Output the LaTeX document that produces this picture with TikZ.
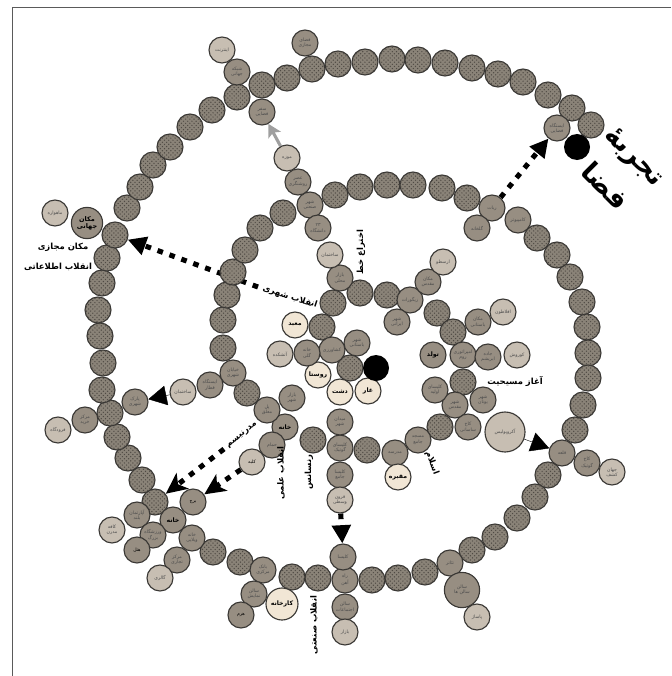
\documentclass[tikz,border=0pt]{standalone}
\usepackage{fontspec}
\usepackage{tikz}
\usetikzlibrary{arrows.meta, backgrounds, patterns}
\newfontfamily\farsi[Script=Arabic]{DejaVu Sans}
\TeXXeTstate=1
\newcommand{\fatxt}[1]{\beginR #1\endR}

\definecolor{beaddark}{HTML}{8A8378}
\definecolor{beadtex}{HTML}{4F4A44}
\definecolor{beadmid}{HTML}{978E82}
\definecolor{beadlight}{HTML}{C7BEB2}
\definecolor{beadcream}{HTML}{F1E6D5}
\definecolor{beadline}{HTML}{3A3835}
\definecolor{framegray}{HTML}{5A5A5A}

\tikzset{
  bead/.style={circle, draw=beadline, line width=0.8pt, fill=beaddark, minimum size=0.65cm, inner sep=0pt,
    postaction={pattern=crosshatch dots, pattern color=beadtex}},
  event/.style={circle, draw=beadline, line width=0.8pt, fill=beadmid, minimum size=0.65cm, inner sep=0pt,
    align=center, text=black!70, font=\farsi\fontsize{3.3}{3.7}\selectfont},
  faded/.style={event, fill=beadlight},
  marked/.style={event, text=black, font=\farsi\bfseries\fontsize{4.4}{5}\selectfont},
  origin/.style={event, fill=beadcream, text=black, font=\farsi\bfseries\fontsize{4.4}{5}\selectfont},
  hole/.style={circle, fill=black, minimum size=0.65cm, inner sep=0pt},
  era/.style={font=\farsi\bfseries\fontsize{6}{7}\selectfont, inner sep=1pt},
  headline/.style={font=\farsi\bfseries\fontsize{19}{31}\selectfont, rotate=-45, inner sep=0pt, align=center},
  jump/.style={line width=3.6pt, dash pattern=on 4pt off 5pt, -{Triangle[length=13pt,width=13pt]}},
  leap/.style={line width=3.6pt, dash pattern=on 4pt off 5pt, -{Stealth[length=15pt,width=14pt,inset=4pt]}},
  nudge/.style={line width=0.3pt, -{Triangle[length=13pt,width=14pt]}},
  pointer/.style={draw=gray!75, line width=2.2pt, -{Stealth[length=9pt,width=10pt,inset=2pt]}, gray!75},
}

\begin{document}
\begin{tikzpicture}[x=0.025cm, y=-0.025cm]
\useasboundingbox (0,0) rectangle (671,676);
\draw[framegray, line width=0.6pt] (12,676) -- (12,7) -- (671,7);

% spiral of plain beads, centre outwards
\foreach \px/\py [count=\k] in {350/368, 322/327, 333/303, 360/293, 387/295, 437/313, 453/332, 463/382,
    440/427, 367/450, 313/440, 247/393, 223/348, 223/320, 227/295, 233/272, 245/250, 260/228, 283/213,
    335/195, 360/187, 387/185, 413/185, 442/188, 467/198, 537/238, 557/255, 570/277, 582/302, 587/327,
    588/353, 588/378, 583/405, 575/430, 548/475, 535/497, 517/518, 495/537, 472/550, 425/572, 398/578,
    372/580, 318/578, 292/577, 240/562, 213/552, 155/502, 142/480, 128/458, 117/437, 110/413, 102/390,
    103/363, 100/336, 98/310, 102/283, 107/258, 115/235, 127/208, 140/187, 153/165, 170/147, 190/127,
    212/110, 237/97, 262/85, 287/78, 312/69, 338/64, 365/62, 392/59, 418/60, 445/63, 472/68, 498/74,
    523/82, 548/95, 572/108, 591/125}
  \node[bead] (s\k) at (\px,\py) {};

% events on the spiral
\node[event] (farm) at (332,350) {\fatxt{کشاورزی}};
\node[event] (ziggurat) at (410,300) {\fatxt{زیگورات}};
\node[event] (rome) at (463,355) {\fatxt{امپراتوری}\\\fatxt{روم}};
\node[event] (holycity) at (455,405) {\fatxt{شهر}\\\fatxt{مقدس}};
\node[event] (mosque) at (418,440) {\fatxt{مسجد}\\\fatxt{جامع}};
\node[event] (school) at (395,453) {\fatxt{مدرسه}};
\node[event] (gothic) at (340,448) {\fatxt{کلیسای}\\\fatxt{گوتیک}};
\node[marked] (house) at (285,427) {\fatxt{خانه}};
\node[event] (bridge) at (267,410) {\fatxt{پل}\\\fatxt{معلق}};
\node[event] (street) at (233,373) {\fatxt{خیابان}\\\fatxt{شهری}};
\node[event] (factorycity) at (310,205) {\fatxt{شهر}\\\fatxt{صنعتی}};
\node[event] (robot) at (492,208) {\fatxt{ربات}};
\node[event] (computer) at (518,220) {\fatxt{کامپیوتر}};
\node[event] (castle) at (562,453) {\fatxt{قلعه}};
\node[event] (theatre) at (450,563) {\fatxt{تئاتر}};
\node[event] (railway) at (345,580) {\fatxt{راه}\\\fatxt{آهن}};
\node[event] (bank) at (263,570) {\fatxt{بانک}\\\fatxt{مرکزی}};
\node[event] (villa) at (192,538) {\fatxt{خانه}\\\fatxt{ویلایی}};
\node[marked] (home) at (173,520) {\fatxt{خانه}};

% side beads, top and left
\node[event] (cyber) at (305,43) {\fatxt{فضای}\\\fatxt{مجازی}};
\node[faded] (internet) at (222,50) {\fatxt{اینترنت}};
\node[event] (web) at (237,72) {\fatxt{شبکه}\\\fatxt{جهانی}};
\node[event] (orbit) at (262,112) {\fatxt{سفر}\\\fatxt{فضایی}};
\node[faded] (museum) at (287,158) {\fatxt{موزه}};
\node[event] (reason) at (298,182) {\fatxt{عصر}\\\fatxt{روشنگری}};
\node[event] (campus) at (318,228) {\fatxt{۲۳}\\\fatxt{دانشگاه}};
\node[event, minimum size=0.78cm, text=black, font=\farsi\bfseries\fontsize{4.6}{5.2}\selectfont] (globalplace) at (87,223) {\fatxt{مکان}\\\fatxt{جهانی}};
\node[faded] (satellite) at (55,213) {\fatxt{ماهواره}};
\node[event] (park) at (135,402) {\fatxt{پارک}\\\fatxt{شهری}};
\node[event] (mall) at (85,420) {\fatxt{مرکز}\\\fatxt{خرید}};
\node[faded] (airport) at (58,430) {\fatxt{فرودگاه}};
\node[faded] (building) at (183,392) {\fatxt{ساختمان}};
\node[event] (station) at (210,385) {\fatxt{ایستگاه}\\\fatxt{قطار}};

% side beads, lower left and bottom
\node[event, text=black] (tower) at (193,502) {\fatxt{برج}};
\node[event] (flat) at (137,515) {\fatxt{آپارتمان}\\\fatxt{بلند}};
\node[faded] (cafe) at (112,530) {\fatxt{کافه}\\\fatxt{مدرن}};
\node[event] (stadium) at (153,535) {\fatxt{ورزشگاه}\\\fatxt{بزرگ}};
\node[event, text=black] (hotel) at (137,550) {\fatxt{هتل}};
\node[event] (trade) at (177,560) {\fatxt{مرکز}\\\fatxt{تجاری}};
\node[faded] (gallery) at (160,578) {\fatxt{گالری}};
\node[event] (hall) at (254,594) {\fatxt{سالن}\\\fatxt{نمایش}};
\node[event, text=black] (pyramid) at (241,615) {\fatxt{هرم}};
\node[origin, minimum size=0.8cm] (factory) at (282,604) {\fatxt{کارخانه}};
\node[event] (cathedral) at (343,557) {\fatxt{کلیسا}};
\node[event] (assembly) at (345,607) {\fatxt{سالن}\\\fatxt{اجتماعات}};
\node[faded] (bazaar) at (345,632) {\fatxt{بازار}};
\node[event, minimum size=0.88cm] (halls) at (462,590) {\fatxt{سالن}\\\fatxt{سالن ها}};
\node[faded] (arcade) at (477,617) {\fatxt{پاساژ}};

% side beads, right
\node[event] (palace) at (587,463) {\fatxt{کاخ}\\\fatxt{گوتیک}};
\node[faded] (discovery) at (612,472) {\fatxt{جهان}\\\fatxt{کشف}};
\node[event] (spacestation) at (557,128) {\fatxt{ایستگاه}\\\fatxt{فضایی}};
\node[event] (greenhouse) at (477,228) {\fatxt{گلخانه}};

% side beads, inner turns
\node[event] (market) at (292,398) {\fatxt{بازار}\\\fatxt{شهر}};
\node[event] (bath) at (272,445) {\fatxt{حمام}};
\node[faded, text=black] (hut) at (252,462) {\fatxt{کلبه}};
\node[event] (square) at (340,422) {\fatxt{میدان}\\\fatxt{شهر}};
\node[origin] (plain) at (340,392) {\fatxt{دشت}};
\node[event] (church) at (340,475) {\fatxt{کلیسا}\\\fatxt{جامع}};
\node[faded] (middleages) at (340,500) {\fatxt{قرون}\\\fatxt{وسطی}};
\node[origin] (tomb) at (398,477) {\fatxt{مقبره}};
\node[origin] (cave) at (368,391) {\fatxt{غار}};
\node[origin] (village) at (318,375) {\fatxt{روستا}};
\node[origin] (temple) at (295,325) {\fatxt{معبد}};
\node[event] (mudhouse) at (307,353) {\fatxt{خانه}\\\fatxt{گلی}};
\node[faded] (firetemple) at (280,354) {\fatxt{آتشکده}};
\node[event] (oldcity) at (357,343) {\fatxt{شهر}\\\fatxt{باستانی}};
\node[event] (localmarket) at (340,278) {\fatxt{بازار}\\\fatxt{محلی}};
\node[faded] (house2) at (330,255) {\fatxt{ساختمان}};
\node[event] (persian) at (397,322) {\fatxt{شهر}\\\fatxt{ایرانی}};
\node[event] (sacred) at (428,282) {\fatxt{مکان}\\\fatxt{مقدس}};
\node[faded] (aristotle) at (443,262) {\fatxt{ارسطو}};
\node[event] (ancient) at (478,322) {\fatxt{مکان}\\\fatxt{باستانی}};
\node[faded] (plato) at (503,312) {\fatxt{افلاطون}};
\node[marked] (birth) at (433,355) {\fatxt{تولد}};
\node[event] (silkroad) at (488,357) {\fatxt{جاده}\\\fatxt{ابریشم}};
\node[faded] (cyrus) at (517,355) {\fatxt{کوروش}};
\node[event] (earlychurch) at (435,390) {\fatxt{کلیسای}\\\fatxt{اولیه}};
\node[event] (greekcity) at (483,400) {\fatxt{شهر}\\\fatxt{یونان}};
\node[event] (sasanian) at (468,427) {\fatxt{کاخ}\\\fatxt{ساسانی}};
\node[faded, minimum size=1cm] (acropolis) at (505,432) {\fatxt{آکروپولیس}};

% the two ends of the spiral
\node[hole] (start) at (376,368) {};
\node[hole] (finish) at (577,147) {};

% labels
\node[era, rotate=-18] (urban) at (290,297) {\fatxt{انقلاب شهری}};
\node[era, rotate=90] (writing) at (361,252) {\fatxt{اختراع خط}};
\node[era] (christ) at (515,381) {\fatxt{آغاز مسیحیت}};
\node[era, rotate=-70] (islam) at (432,463) {\fatxt{اسلام}};
\node[era, rotate=90] (science) at (281,473) {\fatxt{انقلاب علمی}};
\node[era, rotate=90] (renaissance) at (309,472) {\fatxt{رنسانس}};
\node[era, rotate=90] (industry) at (314,625) {\fatxt{انقلاب صنعتی}};
\node[era, rotate=38] (modern) at (242,435) {\fatxt{مدرنیسم}};
\node[era] (virtual) at (63,247) {\fatxt{مکان مجازی}};
\node[era] (info) at (58,267) {\fatxt{انقلاب اطلاعاتی}};
\node[headline] (experience) at (620,171) {\fatxt{تجربهٔ}\\\fatxt{فضا}};

% jumps between the turns
\begin{pgfonlayer}{background}
  \coordinate (cityfrom) at (258,287);
  \coordinate (modfrom) at (224,449);
  \draw[jump] (cityfrom) -- (s58);
  \draw[jump] (robot) -- (spacestation);
  \draw[jump] (middleages) -- (cathedral);
  \draw[leap] (modfrom) -- (s47);
  \draw[leap] (hut) -- (tower);
\end{pgfonlayer}
\draw[nudge] (building) -- (park);
\draw[nudge] (acropolis) -- (castle);
\draw[pointer] (museum) -- (orbit);
\end{tikzpicture}
\end{document}
